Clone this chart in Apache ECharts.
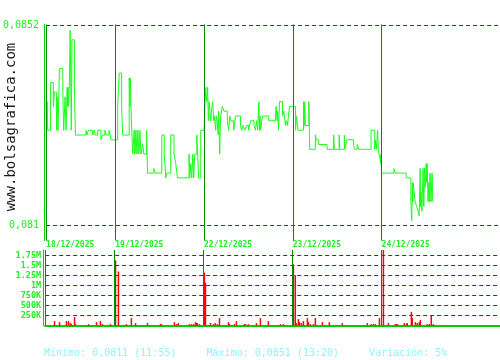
<!DOCTYPE html>
<html><head><meta charset="utf-8">
<script src="https://cdn.jsdelivr.net/npm/echarts@6/dist/echarts.min.js"></script>
<style>html,body{margin:0;padding:0;background:#fff}#c{width:500px;height:360px}</style>
</head><body><div id="c"></div>
<script>
// ---- data ----
const dates = ['18/12/2025', '19/12/2025', '22/12/2025', '23/12/2025', '24/12/2025'];
const sessionMinutes = 515;   // 09:00 - 17:35
const firstMinute = 114;      // chart starts 10:54 on first day
const axisSpan = 2633;        // minutes shown across the plot
const priceTicks = [0.081, 0.0852];
const priceTickLabels = ['0,081', '0,0852'];
const volumeTicks = [250000, 500000, 750000, 1000000, 1250000, 1500000, 1750000];
const volumeTickLabels = ['250K', '500K', '750K', '1M', '1.25M', '1.5M', '1.75M'];

// [minutes after 09:00, price]
const priceDay1 = [[114,0.0836],[117,0.0830],[120,0.0836],[123,0.0830],[139,0.0840],[156,0.0835],[162,0.0838],[175,0.0830],[178,0.0837],[183,0.0830],[191,0.0843],[211,0.0837],[216,0.0830],[224,0.0837],[230,0.0830],[236,0.0839],[239,0.0835],[241,0.0839],[244,0.0835],[249,0.0840],[253,0.0851],[257,0.0840],[260,0.0830],[264,0.0849],[278,0.0839],[284,0.0829],[345,0.0830],[351,0.0829],[359,0.0830],[384,0.0829],[394,0.0830],[399,0.0829],[413,0.0830],[432,0.0828],[442,0.0829],[455,0.0830],[461,0.0829],[479,0.0830],[486,0.0829],[490,0.0828]];
const priceDay2 = [[0,0.0828],[14,0.0835],[23,0.0842],[37,0.0835],[43,0.0829],[81,0.0841],[85,0.0835],[88,0.0841],[91,0.0835],[101,0.0825],[110,0.0830],[114,0.0825],[120,0.0830],[126,0.0825],[131,0.0830],[137,0.0825],[143,0.0830],[149,0.0825],[159,0.0827],[166,0.0825],[182,0.0830],[185,0.0825],[187,0.0821],[224,0.0822],[234,0.0821],[270,0.0829],[284,0.0825],[293,0.0820],[299,0.0821],[322,0.0829],[341,0.0825],[351,0.0823],[361,0.0820],[428,0.0825],[432,0.0820],[438,0.0823],[444,0.0820],[450,0.0825],[455,0.0820],[461,0.0825],[473,0.0829],[478,0.0825],[484,0.0820],[496,0.0830]];
const priceDay3 = [[0,0.0830],[10,0.0839],[16,0.0836],[21,0.0839],[25,0.0832],[29,0.0836],[39,0.0832],[43,0.0834],[50,0.0836],[56,0.0832],[60,0.0833],[68,0.0830],[71,0.0833],[76,0.0832],[82,0.0829],[85,0.0834],[91,0.0825],[94,0.0830],[97,0.0833],[106,0.0835],[116,0.0834],[135,0.0832],[143,0.0830],[149,0.0833],[155,0.0832],[172,0.0830],[183,0.0833],[212,0.0831],[218,0.0830],[228,0.0831],[236,0.0830],[247,0.0831],[259,0.0830],[270,0.0832],[290,0.0831],[298,0.0830],[305,0.0832],[311,0.0830],[318,0.0836],[322,0.0830],[325,0.0833],[328,0.0830],[339,0.0833],[376,0.0832],[415,0.0833],[418,0.0835],[424,0.0832],[427,0.0834],[432,0.0830],[438,0.0836],[455,0.0833],[463,0.0834],[473,0.0831],[478,0.0832],[484,0.0831],[490,0.0833],[496,0.0835]];
const priceDay4 = [[0,0.0835],[16,0.0830],[22,0.0833],[30,0.0830],[62,0.0836],[66,0.0831],[69,0.0836],[73,0.0831],[93,0.0836],[98,0.0826],[131,0.0829],[137,0.0828],[150,0.0827],[199,0.0826],[237,0.0829],[241,0.0826],[269,0.0829],[272,0.0826],[299,0.0829],[302,0.0826],[313,0.0828],[353,0.0827],[357,0.0826],[373,0.0827],[382,0.0826],[454,0.0830],[475,0.0826],[479,0.0828],[485,0.0826],[492,0.0830],[496,0.0826],[500,0.0825],[506,0.0824],[509,0.0823],[511,0.0825],[513,0.0823]];
const priceDay5 = [[0,0.0821],[72,0.0822],[79,0.0821],[143,0.0820],[170,0.0815],[175,0.0811],[177,0.0815],[179,0.0819],[181,0.0815],[183,0.0819],[189,0.0817],[195,0.0815],[203,0.0814],[212,0.0813],[218,0.0812],[224,0.0822],[226,0.0814],[230,0.0817],[234,0.0813],[237,0.0817],[241,0.0822],[245,0.0814],[249,0.0822],[253,0.0818],[259,0.0823],[262,0.0819],[264,0.0823],[267,0.0819],[270,0.0815],[274,0.0819],[278,0.0815],[281,0.0821],[287,0.0815],[293,0.0821],[297,0.0815]];

// [minutes after 09:00, volume]
const volDay1 = [[168,110000],[197,84000],[237,110000],[249,110000],[260,60000],[266,34000],[284,210000],[289,34000],[365,34000],[411,84000],[434,110000],[446,34000],[492,34000]];
const volDay2 = [[6,1630000],[23,1350000],[69,34000],[98,185000],[122,60000],[191,60000],[266,34000],[272,34000],[347,84000],[359,34000],[370,60000],[434,34000],[446,34000],[457,34000],[469,84000],[475,60000],[480,60000],[492,34000]];
const volDay3 = [[6,1320000],[12,1070000],[41,60000],[58,34000],[69,60000],[81,34000],[93,185000],[145,84000],[150,34000],[179,34000],[191,110000],[237,34000],[243,34000],[260,34000],[307,60000],[330,185000],[376,110000],[446,34000],[463,34000]];
const volDay4 = [[6,1530000],[17,1260000],[23,60000],[35,160000],[41,84000],[52,60000],[64,110000],[87,185000],[93,84000],[104,34000],[122,34000],[133,185000],[174,84000],[214,84000],[289,60000],[434,60000],[457,34000],[469,34000],[480,34000],[504,185000]];
const volDay5 = [[12,2300000],[41,60000],[81,34000],[87,34000],[93,34000],[133,60000],[145,34000],[150,60000],[174,340000],[179,185000],[197,84000],[208,60000],[220,84000],[226,135000],[266,34000],[278,34000],[289,260000],[301,34000]];

const summary = 'Mínimo: 0,0811 (11:55)     Máximo: 0,0851 (13:20)     Variación: 5%';
const watermark = 'www.bolsagrafica.com';

// ---- build ----
const priceDays = [priceDay1, priceDay2, priceDay3, priceDay4, priceDay5];
const volDays = [volDay1, volDay2, volDay3, volDay4, volDay5];
const toX = (d, m) => d * sessionMinutes + m;
const priceData = [], volData = [];
priceDays.forEach((day, d) => day.forEach(([m, p]) => priceData.push([toX(d, m), p])));
volDays.forEach((day, d) => day.forEach(([m, v]) => volData.push([toX(d, m), v])));
const dayStarts = dates.map((_, d) => d === 0 ? firstMinute : d * sessionMinutes);
const xMin = firstMinute, xMax = firstMinute + axisSpan;

const MONO = '"DejaVu Sans Mono", monospace';
const LABEL = '#22ee22';
const AXIS = '#00cc00';
const SEP = '#008a00';
const DASH = '#005f00';
const findLabel = (vals, labels, v) => {
  const i = vals.findIndex(t => Math.abs(t - v) < 1e-9 * Math.max(1, Math.abs(t)));
  return i >= 0 ? labels[i] : '';
};
const sepLines = () => dayStarts.map(x => ({ xAxis: x, lineStyle: { color: SEP, width: 1, type: 'solid' } }));

const chart = echarts.init(document.getElementById('c'));
chart.setOption({
  animation: false,
  backgroundColor: '#ffffff',
  grid: [
    { left: 45.2, right: 0, top: 24.5, height: 216 },
    { left: 45.2, right: 0, top: 250, height: 75.5 }
  ],
  xAxis: [
    { gridIndex: 0, type: 'value', min: xMin, max: xMax,
      axisLine: { show: false }, axisTick: { show: false }, splitLine: { show: false },
      axisLabel: { customValues: dayStarts, formatter: v => findLabel(dayStarts, dates, v),
        align: 'left', margin: 0, color: LABEL, fontFamily: MONO, fontSize: 8, fontWeight: 'bold', lineHeight: 9 } },
    { gridIndex: 1, type: 'value', min: xMin, max: xMax,
      axisLine: { show: true, lineStyle: { color: AXIS, width: 2 } }, axisTick: { show: false },
      axisLabel: { show: false }, splitLine: { show: false } }
  ],
  yAxis: [
    { gridIndex: 0, type: 'value', min: 0.080685, max: 0.085221, offset: 2,
      axisLine: { show: true, lineStyle: { color: AXIS, width: 1 } }, axisTick: { show: false }, splitLine: { show: false },
      axisLabel: { customValues: priceTicks, formatter: v => findLabel(priceTicks, priceTickLabels, v),
        margin: 5, color: LABEL, fontFamily: MONO, fontSize: 10 } },
    { gridIndex: 1, type: 'value', min: 0, max: 1887500, interval: 250000, offset: 2,
      axisLine: { show: true, lineStyle: { color: AXIS, width: 1 } }, axisTick: { show: false }, splitLine: { show: false },
      axisLabel: { formatter: v => findLabel(volumeTicks, volumeTickLabels, v),
        margin: 2, color: LABEL, fontFamily: MONO, fontSize: 8.5, fontWeight: 'bold' } }
  ],
  series: [
    { type: 'line', xAxisIndex: 0, yAxisIndex: 0, data: [], z: 1,
      markLine: { silent: true, symbol: ['none', 'none'], label: { show: false }, animation: false, precision: 8,
        lineStyle: { color: DASH, width: 1, type: [4, 3] },
        data: priceTicks.map(v => ({ yAxis: v })).concat(sepLines()) } },
    { type: 'line', xAxisIndex: 0, yAxisIndex: 0, data: priceData, step: 'end', z: 3,
      showSymbol: false, symbol: 'none', lineStyle: { color: '#1aff1a', width: 1 } },
    { type: 'line', xAxisIndex: 1, yAxisIndex: 1, data: [], z: 1,
      markLine: { silent: true, symbol: ['none', 'none'], label: { show: false }, animation: false, precision: 8,
        lineStyle: { color: DASH, width: 1, type: [4, 3] },
        data: volumeTicks.map(v => ({ yAxis: v })).concat(sepLines()) } },
    { type: 'bar', xAxisIndex: 1, yAxisIndex: 1, data: volData, barWidth: 1.5, z: 3,
      itemStyle: { color: '#ff0000' } }
  ],
  graphic: [
    { type: 'text', x: 11, y: 127, rotation: Math.PI / 2,
      style: { text: watermark, font: '14px ' + MONO, fill: '#1a1a1a', align: 'center', verticalAlign: 'middle' } },
    { type: 'text', x: 44, y: 353,
      style: { text: summary, font: '10px ' + MONO, fill: '#8ef2ff', align: 'left', verticalAlign: 'middle' } }
  ]
});
</script>
</body></html>
